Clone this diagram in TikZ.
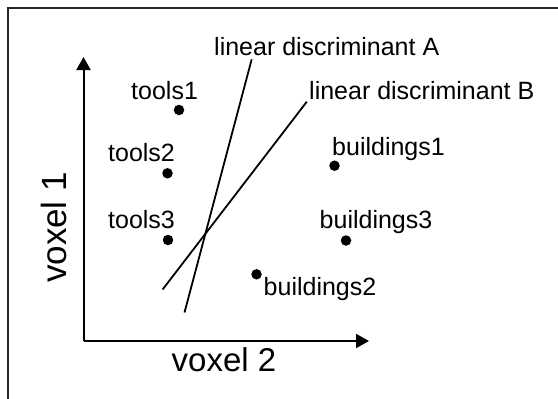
\documentclass[tikz,border=0pt]{standalone}
\usepackage{fontspec}
\setmainfont{Liberation Sans}
\usetikzlibrary{arrows.meta}
\begin{document}
\begin{tikzpicture}[x=1pt,y=-1pt,
  lbl/.style={anchor=base west,inner sep=0pt,font=\fontsize{25}{30}\selectfont},
  axlbl/.style={inner sep=0pt,font=\fontsize{33}{40}\selectfont},
  pt/.style={circle,fill=black,inner sep=0pt,minimum size=10.5pt},
  axis/.style={line width=2pt,-{Triangle[length=13pt,width=14pt]}},
  disc/.style={line width=1.8pt}]
  \useasboundingbox (0,0) rectangle (558,399);
  % frame
  \draw[line width=2pt,black!85] (8,400) -- (8,8) -- (560,8);

  % axes
  \coordinate (O) at (83.5,341);
  \coordinate (ytip) at (83.5,57);
  \coordinate (xtip) at (369,341);
  \draw[axis] (O) -- (ytip);
  \draw[axis] (O) -- (xtip);
  \node[axlbl,anchor=base] (xl) at (224,371.5) {voxel 2};
  \node[axlbl,anchor=base,rotate=90,font=\fontsize{35}{40}\selectfont] (yl) at (66,227.5) {voxel 1};

  % samples
  \node[pt] (t1) at (179,110) {};
  \node[pt] (t2) at (167.5,173.3) {};
  \node[pt] (t3) at (168,240) {};
  \node[pt] (b1) at (334.5,165.7) {};
  \node[pt] (b3) at (346,240.5) {};
  \node[pt] (b2) at (256.5,274.3) {};
  \node[lbl] (lt1) at (131,99.3) {tools1};
  \node[lbl] (lt2) at (108,161.7) {tools2};
  \node[lbl] (lt3) at (108,228.3) {tools3};
  \node[lbl] (lb1) at (332,155) {buildings1};
  \node[lbl] (lb3) at (319.5,228.3) {buildings3};
  \node[lbl] (lb2) at (263.5,295) {buildings2};

  % discriminant lines
  \coordinate (a1) at (251.7,59.3);
  \coordinate (a2) at (184.5,312.5);
  \coordinate (c1) at (306.8,101.7);
  \coordinate (c2) at (162.6,289.5);
  \draw[disc] (a1) -- (a2);
  \draw[disc] (c1) -- (c2);
  \node[lbl] (la) at (214,55) {linear discriminant A};
  \node[lbl] (lb) at (309,99.3) {linear discriminant B};
\end{tikzpicture}
\end{document}
